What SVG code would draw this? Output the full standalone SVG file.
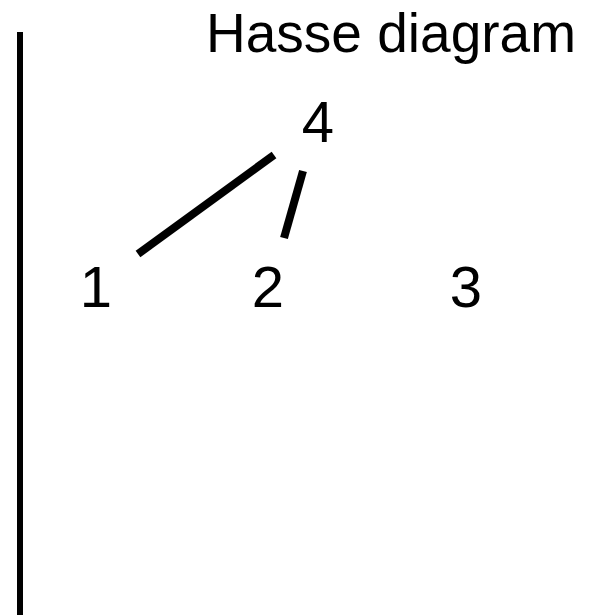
<svg xmlns="http://www.w3.org/2000/svg" width="589" height="615" viewBox="0 0 589 615">
<style>
text{font-family:"Liberation Sans",Arial,sans-serif;fill:#000}
.lbl{font-size:58px;text-anchor:middle}
.edge{stroke:#000;stroke-width:8;fill:none}
</style>
<rect width="589" height="615" fill="#fff"/>
<line x1="20" y1="32" x2="20" y2="615" stroke="#000" stroke-width="6"/>
<text x="206" y="52" font-size="56" textLength="370" lengthAdjust="spacingAndGlyphs">Hasse diagram</text>
<g id="connectors">
<line class="edge" x1="138" y1="254" x2="274" y2="155"/>
<line class="edge" x1="303" y1="171" x2="284" y2="238"/>
</g>
<g id="node4"><text class="lbl" x="318" y="142">4</text></g>
<g id="node1"><text class="lbl" x="96" y="307">1</text></g>
<g id="node2"><text class="lbl" x="268" y="307">2</text></g>
<g id="node3"><text class="lbl" x="466" y="307">3</text></g>
</svg>
